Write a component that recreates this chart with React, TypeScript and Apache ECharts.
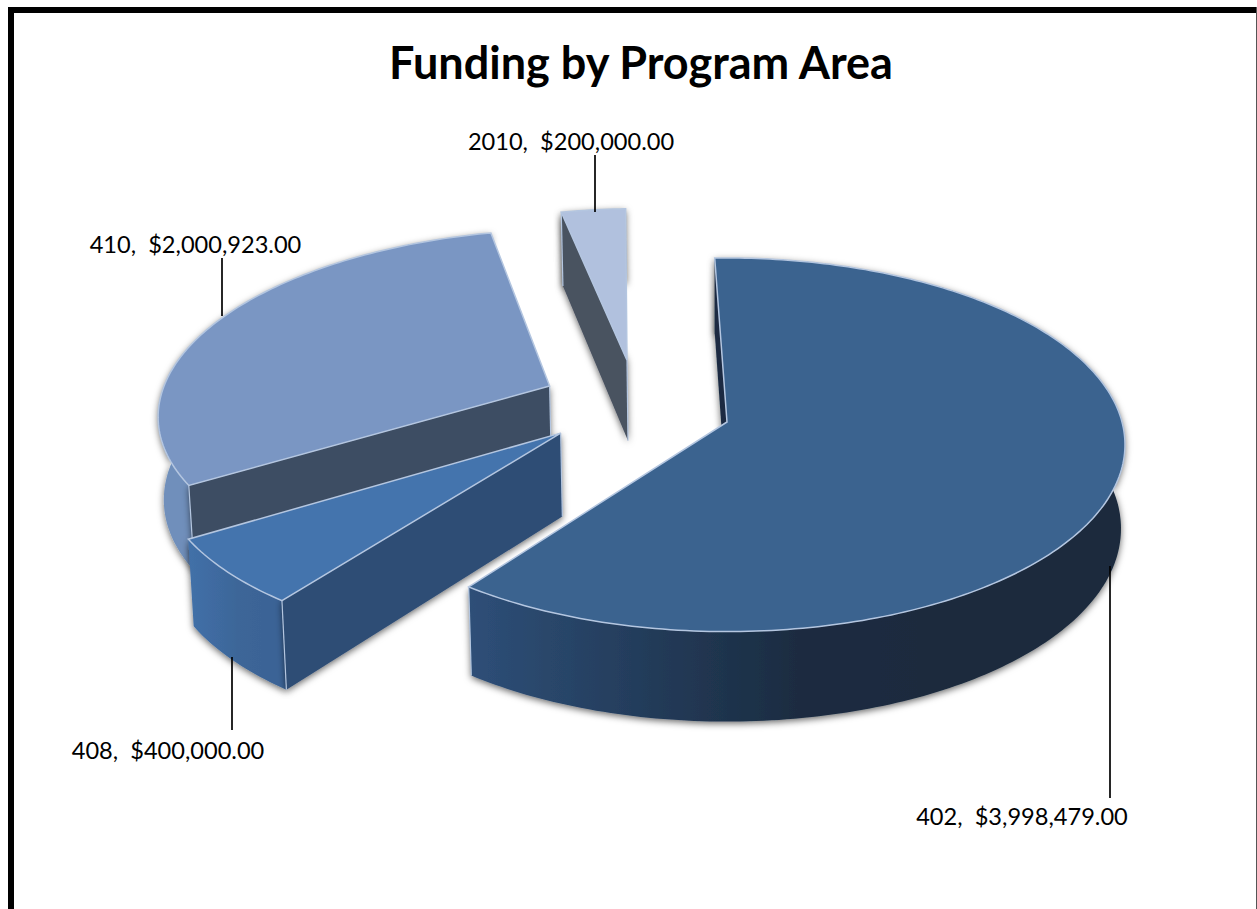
import React, { useEffect, useRef } from "react";
import * as echarts from "echarts";

const categories = ["402", "408", "410", "2010"];
const amounts = [3998479, 400000, 2000923, 200000];

const TITLE = "Funding by Program Area";
const DRAW_ORDER = [3, 2, 1, 0];

// Pie projection (layout only)
const CX = 727, CY = 422, RX = 395, RY = 184, K = 0.122, START_DEG = -2;
const EXPLODE: number[][] = [[0, 0], [-0.418, 0.06], [-0.46, -0.2], [-0.264, -0.35]];
const TOP_COLORS = ["#3b638f", "#4474ad", "#7a96c3", "#b1c1de"];
const RADIAL_COLORS = ["#1a2c42", "#2f4d74", "#3d4d63", "#4a5261"];
const OUTER_STOPS: string[][] = [
  ["#2e4f78", "#243d5c", "#1b2c41", "#1a2a3d", "#1a2a3d"],
  ["#4270a8", "#3f6ba1", "#3d6698", "#3b6496", "#3b6496"],
  ["#6f8fbb", "#6f8fbb", "#6f8fbb", "#6f8fbb", "#6f8fbb"],
  ["#4a5261", "#4a5261", "#4a5261", "#4a5261", "#4a5261"],
];
// Which rim end carries the light vertical corner line: 0 = start, 1 = end
const CORNER_LINE = [1, 0, 0, 0];
const LABEL_LAYOUT: { x: number; y: number; lx: number; ly0: number; ly1: number }[] = [
  { x: 1022, y: 816, lx: 1110, ly0: 566, ly1: 798 },
  { x: 168, y: 750, lx: 232, ly0: 657, ly1: 730 },
  { x: 195.5, y: 244, lx: 222, ly0: 258, ly1: 316 },
  { x: 571, y: 141, lx: 595, ly0: 155, ly1: 212 },
];

const total = amounts.reduce((a, b) => a + b, 0);
const fmt = (v: number) =>
  "$" + v.toLocaleString("en-US", { minimumFractionDigits: 2, maximumFractionDigits: 2 });

function angleRange(i: number): [number, number] {
  let a = START_DEG;
  for (let j = 0; j < i; j++) a += (amounts[j] / total) * 360;
  return [a, a + (amounts[i] / total) * 360];
}

function project(U: number, V: number): number[] {
  const s = 1 / (1 - K * V);
  return [CX + RX * U * s, CY + RY * V * s];
}
function lower(U: number, V: number): number[] {
  const p = project(U, V);
  return [CX + (p[0] - CX) * 0.99, p[1] + 83 + 7 * V];
}
function rim(i: number, deg: number): number[] {
  const r = (deg * Math.PI) / 180;
  return [EXPLODE[i][0] + Math.sin(r), EXPLODE[i][1] - Math.cos(r)];
}

function renderItem(_params: any, api: any) {
  const i = api.value(0) as number;
  const [a0, a1] = angleRange(i);
  const arc: number[][] = [];
  const n = Math.ceil(a1 - a0);
  for (let j = 0; j <= n; j++) arc.push(rim(i, a0 + ((a1 - a0) * j) / n));
  const apex = EXPLODE[i];
  const arcTop = arc.map((p) => project(p[0], p[1]));
  const arcLow = arc.map((p) => lower(p[0], p[1]));
  const apexTop = project(apex[0], apex[1]);
  const apexLow = lower(apex[0], apex[1]);
  const shadow = { shadowBlur: 7, shadowColor: "rgba(0,0,0,0.6)", shadowOffsetX: 0, shadowOffsetY: 2 };
  const light = "#b4c6e0";
  const stops = OUTER_STOPS[i].map((color, k) => ({ offset: k / 4, color }));
  const corner = CORNER_LINE[i] === 0 ? 0 : arc.length - 1;
  const children: any[] = [
    {
      type: "polygon",
      shape: { points: [...arcTop, ...arcLow.slice().reverse()] },
      style: { fill: new echarts.graphic.LinearGradient(0, 0, 1, 0, stops), ...shadow },
    },
    {
      type: "polygon",
      shape: { points: [apexTop, arcTop[0], arcLow[0], apexLow] },
      style: { fill: RADIAL_COLORS[i], ...shadow },
    },
    {
      type: "polyline",
      shape: { points: [arcTop[corner], arcLow[corner]] },
      style: { fill: "none", stroke: light, lineWidth: 1.2 },
    },
    {
      type: "polyline",
      shape: { points: [apexTop, apexLow] },
      style: { fill: "none", stroke: light, lineWidth: 1.2 },
    },
    {
      type: "polygon",
      shape: { points: [apexTop, ...arcTop] },
      style: { fill: TOP_COLORS[i], stroke: light, lineWidth: 1.5 },
    },
  ];
  const lay = LABEL_LAYOUT[i];
  children.push(
    {
      type: "line",
      shape: { x1: lay.lx, y1: lay.ly0, x2: lay.lx, y2: lay.ly1 },
      style: { stroke: "#000", lineWidth: 1.7 },
    },
    {
      type: "text",
      x: lay.x,
      y: lay.y,
      style: {
        text: `${categories[i]},  ${fmt(amounts[i])}`,
        font: '23.6px Lato, "Open Sans", sans-serif',
        fill: "#000",
        align: "center",
        verticalAlign: "middle",
      },
    }
  );
  return { type: "group", children };
}

export default function App() {
  const ref = useRef<HTMLDivElement>(null);
  useEffect(() => {
    document.body.style.margin = "0";
    const chart = echarts.init(ref.current!, undefined, { renderer: "svg" });
    chart.setOption({
      animation: false,
      backgroundColor: "#fff",
      title: {
        text: TITLE,
        left: 636,
        top: 34,
        textAlign: "center",
        textStyle: { fontFamily: "Lato", fontWeight: "bold", fontSize: 45, color: "#000" },
      },
      graphic: [
        { type: "rect", shape: { x: 8, y: 7, width: 6, height: 902 }, style: { fill: "#000" } },
        { type: "rect", shape: { x: 8, y: 7, width: 1249, height: 6 }, style: { fill: "#000" } },
        { type: "rect", shape: { x: 1256, y: 7, width: 1, height: 902 }, style: { fill: "#555" } },
      ],
      series: [
        {
          type: "custom",
          coordinateSystem: "none",
          silent: true,
          renderItem,
          data: DRAW_ORDER.map((i) => [i]),
        },
      ],
    });
    return () => chart.dispose();
  }, []);
  return (
    <div
      ref={ref}
      style={{ position: "absolute", left: 0, top: 0, width: 1257, height: 909, overflow: "hidden" }}
    />
  );
}
